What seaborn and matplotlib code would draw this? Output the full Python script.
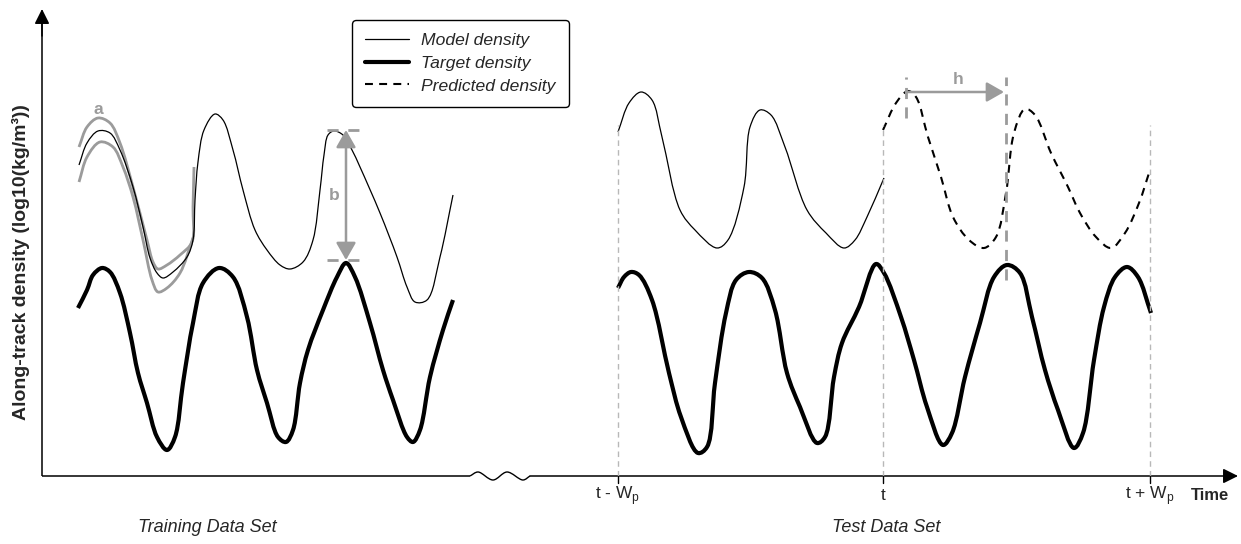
import numpy as np
import pandas as pd
import matplotlib
matplotlib.use("Agg")
import matplotlib.pyplot as plt
from matplotlib.path import Path
from matplotlib.patches import PathPatch, FancyArrowPatch
from matplotlib.lines import Line2D
import seaborn as sns

# ---------------------------------------------------------------------------
# Schematic curves: time (horizontal units) and density (vertical units),
# measured from the origin where the two axes meet.
# ---------------------------------------------------------------------------

# Training period: model density (thin black)
train_model_t = [37, 45, 56, 68, 78, 91, 101, 108, 115, 121, 131, 145, 151, 153, 156,
                 162, 173, 181, 191, 201, 213, 225, 238, 248, 261, 271, 278, 282, 286,
                 292, 301, 310, 318, 338, 355, 365, 373, 385, 398, 411]
train_model_d = [311, 333, 345, 343, 326, 289, 249, 218, 203, 198, 204, 219, 236, 276, 314,
                 346, 362, 356, 326, 286, 246, 226, 211, 207, 214, 236, 286, 321, 341,
                 345, 341, 326, 309, 263, 219, 189, 174, 176, 219, 281]

# Training period: model ensemble spread (grey, "a")
spread_hi_t = [37, 45, 56, 68, 78, 91, 105, 111, 116, 125, 138, 150, 151, 152]
spread_hi_d = [329, 349, 358, 353, 333, 289, 236, 214, 207, 211, 221, 234, 269, 309]
spread_lo_t = [37, 45, 58, 71, 81, 91, 101, 110, 116, 125, 138, 151]
spread_lo_d = [294, 319, 334, 329, 309, 279, 236, 196, 184, 188, 203, 238]

# Training period: target density (thick black)
train_target_t = [36, 45, 51, 60, 68, 78, 88, 96, 105, 115, 125, 133, 141, 151, 161,
                  177, 191, 205, 215, 225, 236, 244, 251, 258, 266, 281, 295, 304, 313,
                  328, 341, 351, 365, 371, 378, 388, 401, 411]
train_target_d = [168, 186, 201, 208, 204, 183, 143, 103, 73, 39, 26, 39, 93, 153, 193,
                  208, 199, 159, 106, 73, 39, 34, 46, 93, 126, 166, 199, 213, 199,
                  153, 106, 76, 39, 34, 46, 99, 146, 176]

# Test period: model density (thin black)
test_model_t = [576, 587, 599, 610, 620, 638, 653, 675, 686, 702, 708, 718, 729, 743,
                765, 784, 802, 813, 825, 842]
test_model_d = [344, 373, 384, 376, 339, 266, 246, 228, 236, 289, 349, 366, 361, 329,
                266, 243, 228, 236, 259, 298]

# Test period: predicted density (dashed black)
pred_t = [841, 854, 866, 874, 886, 899, 911, 927, 942, 954, 964, 972, 983, 993, 1009,
          1026, 1038, 1054, 1069, 1083, 1097, 1108]
pred_d = [346, 373, 385, 379, 339, 299, 259, 236, 228, 239, 283, 343, 367, 361, 323,
          289, 263, 239, 228, 243, 273, 306]

# Test period: target density (thick black)
test_target_t = [576, 582, 589, 597, 610, 627, 639, 656, 665, 673, 684, 694, 707, 720,
                 733, 745, 758, 775, 783, 792, 800, 817, 834, 842, 859, 872, 885, 901,
                 910, 923, 938, 952, 965, 978, 990, 1003, 1016, 1032, 1041, 1052, 1062,
                 1073, 1085, 1096, 1109]
test_target_d = [188, 199, 204, 201, 176, 103, 59, 23, 29, 93, 163, 196, 204, 198,
                 166, 103, 69, 33, 39, 99, 133, 169, 212, 203, 159, 116, 69, 31,
                 43, 99, 153, 199, 211, 203, 159, 106, 66, 28, 43, 116, 169,
                 199, 209, 199, 163]

# Time marks on the horizontal axis
mark_t = [576, 841, 1108]
mark_labels = [r"t - W$_\mathregular{p}$", "t", r"t + W$_\mathregular{p}$"]
mark_top = 351

# Broken-axis squiggle
break_t = [428, 436, 451, 465, 481, 488]
break_d = [0, 4, -4, 4, -4, 0]

# Offset between peak forecasts ("h") and bias ("b")
h_start, h_end, h_level = 864, 964, 384
b_pos, b_top, b_bottom = 304, 346, 216

GREY = "#9b9b9b"
GUIDE = "#b8b8b8"

sns.set_theme(style="white")
plt.rcParams["font.family"] = ["Liberation Sans", "DejaVu Sans"]
plt.rcParams["mathtext.fontset"] = "custom"
plt.rcParams["mathtext.rm"] = "Liberation Sans"


def smooth_path(t, d, alpha=0.5):
    """Centripetal Catmull-Rom curve through the points, as cubic Bezier segments."""
    pts = np.column_stack([t, d]).astype(float)
    ext = np.vstack([2 * pts[0] - pts[1], pts, 2 * pts[-1] - pts[-2]])
    verts = [pts[0]]
    codes = [Path.MOVETO]
    for i in range(1, len(ext) - 2):
        p0, p1, p2, p3 = ext[i - 1], ext[i], ext[i + 1], ext[i + 2]
        d0 = max(np.linalg.norm(p1 - p0) ** alpha, 1e-6)
        d1 = max(np.linalg.norm(p2 - p1) ** alpha, 1e-6)
        d2 = max(np.linalg.norm(p3 - p2) ** alpha, 1e-6)
        m1 = d1 * ((p1 - p0) / d0 - (p2 - p0) / (d0 + d1) + (p2 - p1) / d1)
        m2 = d1 * ((p2 - p1) / d1 - (p3 - p1) / (d1 + d2) + (p3 - p2) / d2)
        verts += [p1 + m1 / 3.0, p2 - m2 / 3.0, p2]
        codes += [Path.CURVE4] * 3
    return Path(verts, codes)


def draw_curve(ax, t, d, **kw):
    ax.add_patch(PathPatch(smooth_path(t, d), facecolor="none",
                           capstyle="butt", joinstyle="round", **kw))


fig = plt.figure(figsize=(12.41, 5.44), dpi=100)
ax = fig.add_axes([0, 0, 1, 1])
ax.set_xlim(-42, 1199)
ax.set_ylim(-68, 476)
ax.axis("off")

# vertical guides at the time marks
guides = pd.DataFrame({
    "t": np.repeat(mark_t, 2),
    "d": [0, mark_top] * len(mark_t),
    "mark": np.repeat(range(len(mark_t)), 2),
})
sns.lineplot(data=guides, x="t", y="d", units="mark", estimator=None, sort=False,
             color=GUIDE, linewidth=1.0, linestyle=(0, (4, 3)), ax=ax, legend=False)

# curves
THIN, THICK = 0.9, 3.0
draw_curve(ax, spread_hi_t, spread_hi_d, edgecolor=GREY, linewidth=2.0)
draw_curve(ax, spread_lo_t, spread_lo_d, edgecolor=GREY, linewidth=2.0)
draw_curve(ax, train_model_t, train_model_d, edgecolor="black", linewidth=THIN)
draw_curve(ax, train_target_t, train_target_d, edgecolor="black", linewidth=THICK)
draw_curve(ax, test_model_t, test_model_d, edgecolor="black", linewidth=THIN)
draw_curve(ax, test_target_t, test_target_d, edgecolor="black", linewidth=THICK)
draw_curve(ax, pred_t, pred_d, edgecolor="black", linewidth=1.5, linestyle=(0, (3.8, 3)))

# axes with arrowheads and the break
ax.plot([0, 0], [0, 455], color="black", lw=1.1, solid_capstyle="butt")
ax.add_patch(FancyArrowPatch((0, 440), (0, 467), arrowstyle="-|>,head_length=0.6,head_width=0.3",
                             mutation_scale=15, color="black", lw=1.1, shrinkA=0, shrinkB=0))
ax.plot([0, break_t[0]], [0, 0], color="black", lw=1.1, solid_capstyle="butt")
draw_curve(ax, break_t, break_d, edgecolor="black", linewidth=1.0)
ax.add_patch(FancyArrowPatch((break_t[-1], 0), (1196, 0), arrowstyle="-|>,head_length=0.6,head_width=0.3",
                             mutation_scale=15, color="black", lw=1.1, shrinkA=0, shrinkB=0))
for t, lab in zip(mark_t, mark_labels):
    ax.plot([t, t], [0, -7], color="black", lw=1.0)
    ax.text(t, -20, lab, ha="center", va="center", fontsize=12.5)
ax.text(1168, -20, "Time", ha="center", va="center", fontsize=12, fontweight="bold")
ax.text(165, -51, "Training Data Set", ha="center", va="center", fontsize=13, style="italic")
ax.text(844, -51, "Test Data Set", ha="center", va="center", fontsize=13, style="italic")
ax.text(-21, 214, "Along-track density (log10(kg/m³))", ha="center", va="center",
        rotation=90, fontsize=14, fontweight="bold")

# "a": ensemble spread
ax.text(56, 366, "a", ha="center", va="center", fontsize=12.5, fontweight="bold", color=GREY)

# "b": bias between model and target
for lvl in (b_top, b_bottom):
    ax.plot([285, 321], [lvl, lvl], color=GREY, lw=2.0, linestyle=(0, (4, 3.5)))
ax.add_patch(FancyArrowPatch((b_pos, b_bottom), (b_pos, b_top),
                             arrowstyle="<|-|>,head_length=0.7,head_width=0.4",
                             mutation_scale=15, color=GREY, lw=1.8, shrinkA=0, shrinkB=0))
ax.text(292, 280, "b", ha="center", va="center", fontsize=12.5, fontweight="bold", color=GREY)

# "h": forecast horizon
ax.plot([h_start, h_start], [358, 399], color=GREY, lw=2.0, linestyle=(0, (4, 3)))
ax.plot([h_end, h_end], [196, 399], color=GREY, lw=2.0, linestyle=(0, (4, 3)))
ax.add_patch(FancyArrowPatch((h_start, h_level), (h_end - 2, h_level),
                             arrowstyle="-|>,head_length=0.7,head_width=0.4",
                             mutation_scale=15, color=GREY, lw=1.8, shrinkA=0, shrinkB=0))
ax.text(916, 396, "h", ha="center", va="center", fontsize=12.5, fontweight="bold", color=GREY)

# legend
handles = [Line2D([], [], color="black", lw=THIN),
           Line2D([], [], color="black", lw=THICK),
           Line2D([], [], color="black", lw=1.5, linestyle=(0, (3.8, 3)))]
labels = ["Model density", "Target density", "Predicted density"]
leg = ax.legend(handles, labels, loc="upper left", bbox_to_anchor=(352 / 1241, 1 - 20 / 544),
                bbox_transform=ax.transAxes, borderaxespad=0, frameon=True, fancybox=True,
                framealpha=1, edgecolor="black", prop={"style": "italic", "size": 12.6},
                handlelength=2.5, handletextpad=0.7, labelspacing=0.42, borderpad=0.75)
leg.get_frame().set_linewidth(1.0)

fig.savefig("out.png", dpi=100)
